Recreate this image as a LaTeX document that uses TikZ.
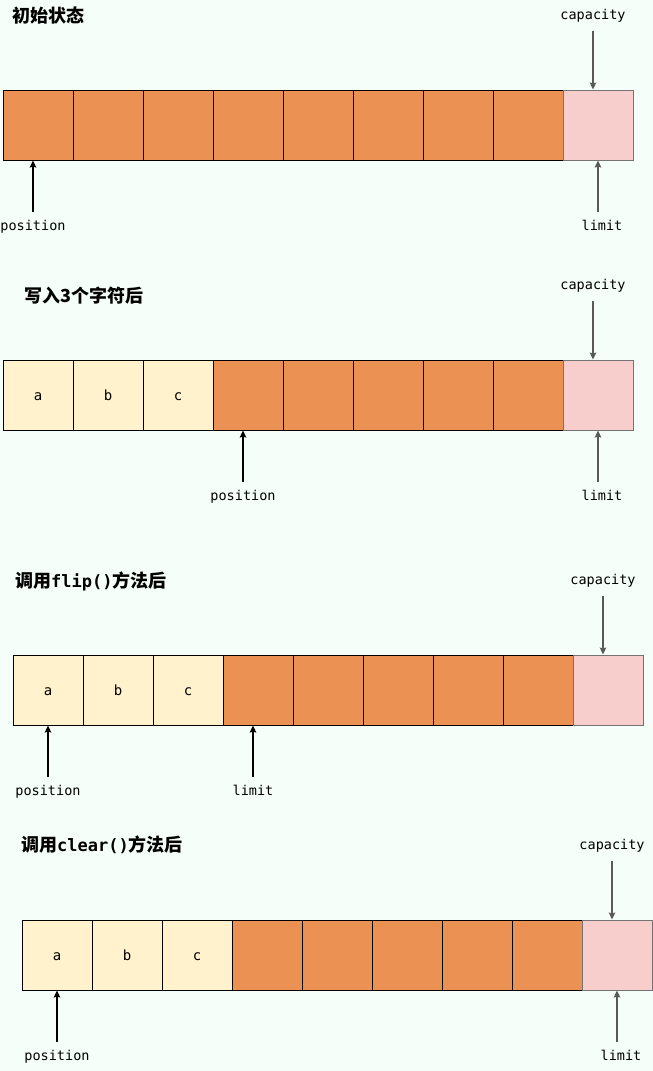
\documentclass[tikz,border=0pt]{standalone}
\usepackage{fontspec}
\setmonofont{DejaVu Sans Mono}
\newfontfamily\cjk{Noto Sans CJK SC}
\usetikzlibrary{arrows.meta,positioning}

\definecolor{bg}{RGB}{245,254,248}
\definecolor{bufA}{RGB}{234,145,83}
\definecolor{bufD}{RGB}{255,242,204}
\definecolor{bufS}{RGB}{248,206,204}

\tikzset{
  cell/.style={draw,line width=1pt,minimum size=70pt,inner sep=0pt,
    text height=10.5pt,text depth=0pt,font=\ttfamily\fontsize{14}{14}\selectfont},
  spare/.style={cell,fill=bufS,draw=black!55},
  title/.style={anchor=west,inner sep=0pt,font=\cjk\bfseries\fontsize{18}{18}\selectfont},
  lbl/.style={inner sep=1pt,font=\ttfamily\fontsize{13.5}{13.5}\selectfont},
  arr/.style={-{Stealth[length=7pt,width=6.5pt,inset=1pt]},line width=1.2pt,shorten <=7pt},
  garr/.style={arr,draw=black!65,fill=black!65}
}

\begin{document}
\begin{tikzpicture}[x=1pt,y=-1pt]
  \useasboundingbox[fill=bg] (0,0) rectangle (653,1071);

  % the four buffers
  \foreach \r/\x/\y/\n in {1/3/90/0,2/3/360/3,3/13/655/3,4/22/920/3}{
    \foreach \i in {1,...,8}{
      \ifnum\i>\n \def\fc{bufA}\def\tx{}\else\def\fc{bufD}\edef\tx{\ifcase\i\or a\or b\or c\fi}\fi
      \node[cell,fill=\fc] (c\r-\i) at ({\x+70*\i-35},{\y+35}) {\tx};
    }
    \node[spare] (c\r-9) at ({\x+595},{\y+35}) {};
  }

  \node[title] (t1) at (12,16)  {初始状态};
  \node[title] (t2) at (24,296) {写入3个字符后};
  \node[title] (t3) at (15,581) {调用{\ttfamily\fontsize{17}{17}\selectfont flip()}方法后};
  \node[title] (t4) at (21,845) {调用{\ttfamily\fontsize{17}{17}\selectfont clear()}方法后};

  % initial
  \node[lbl] (cap1) at (593,16)  {capacity};
  \node[lbl] (pos1) at (33,226.5)  {position};
  \node[lbl] (lim1) at (602,225.5) {limit};
  \draw[garr] (cap1) -- (cap1 |- c1-9.north);
  \draw[arr]  (pos1) -- (pos1 |- c1-1.south);
  \draw[garr] (lim1.north -| c1-9) -- (c1-9.south);

  % after put
  \node[lbl] (cap2) at (593,286) {capacity};
  \node[lbl] (pos2) at (243,496.5) {position};
  \node[lbl] (lim2) at (602,495.5) {limit};
  \draw[garr] (cap2) -- (cap2 |- c2-9.north);
  \draw[arr]  (pos2) -- (pos2 |- c2-4.south);
  \draw[garr] (lim2.north -| c2-9) -- (c2-9.south);

  % after flip
  \node[lbl] (cap3) at (603,581) {capacity};
  \node[lbl] (pos3) at (48,791.5)  {position};
  \node[lbl] (lim3) at (253,790.5) {limit};
  \draw[garr] (cap3) -- (cap3 |- c3-9.north);
  \draw[arr]  (pos3) -- (pos3 |- c3-1.south);
  \draw[arr]  (lim3) -- (lim3 |- c3-4.south);

  % after clear
  \node[lbl] (cap4) at (612,846)  {capacity};
  \node[lbl] (pos4) at (57,1056.5)  {position};
  \node[lbl] (lim4) at (621,1055.5) {limit};
  \draw[garr] (cap4) -- (cap4 |- c4-9.north);
  \draw[arr]  (pos4) -- (pos4 |- c4-1.south);
  \draw[garr] (lim4.north -| c4-9) -- (c4-9.south);
\end{tikzpicture}
\end{document}
